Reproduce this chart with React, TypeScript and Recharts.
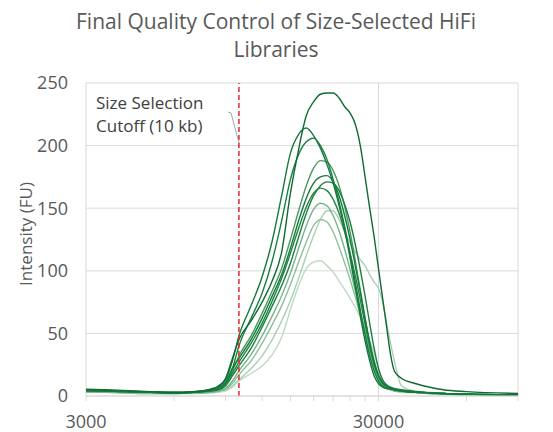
import React from 'react';
import { LineChart, Line, XAxis, YAxis, CartesianGrid, ReferenceLine } from 'recharts';

// Fragment size (bp) sampled along the log axis
const sizesBp = [3000, 3500, 4000, 5000, 6000, 7000, 8000, 8500, 9000, 9500, 10000, 11000, 12000, 13000, 14000, 15000, 16000, 17000, 18000, 19000, 20000, 21000, 22000, 23000, 24000, 25000, 26000, 27000, 28000, 29000, 30000, 31000, 32000, 33000, 34000, 36000, 40000, 45000, 50000, 60000, 90000];

// Intensity (FU) of each library
const libA = [5.5, 5, 4.5, 3.5, 3, 3.5, 5.5, 8, 14, 30, 45, 60, 75, 92, 115, 162, 197, 224, 235, 241, 242, 242, 238, 231, 226, 217, 200, 175, 150, 127, 102, 78, 55, 33, 20, 14, 10, 7, 5, 3.5, 2];
const libB = [4.5, 4, 3.5, 3, 2.5, 3, 5, 7, 13, 28, 48, 72, 95, 124, 160, 194, 209, 214, 208, 198, 185, 170, 152, 133, 110, 87, 64, 44, 28, 16, 10, 7, 6, 5.5, 5, 4, 3, 2.5, 2, 1.5, 1];
const libC = [5, 4, 4, 3, 3, 3.5, 5, 6, 10, 22, 40, 62, 82, 108, 140, 173, 193, 203, 206, 200, 189, 173, 155, 135, 113, 91, 69, 49, 32, 20, 12, 8, 6.5, 6, 5, 4, 3, 2.5, 2, 1.5, 1];
const libD = [4, 4, 3.5, 3, 2.5, 3, 4, 5.5, 9, 20, 32, 48, 66, 84, 102, 125, 148, 168, 182, 188, 187, 180, 168, 151, 131, 108, 85, 62, 42, 26, 15, 10, 7, 6, 5, 4, 3, 2.5, 2, 1.5, 1];
const libE = [5, 4.5, 4, 3, 2.5, 3, 4.5, 6, 11, 22, 30, 45, 62, 80, 97, 118, 140, 158, 170, 175, 176, 171, 160, 144, 125, 104, 83, 62, 43, 28, 17, 11, 8, 6.5, 5.5, 4.5, 3.5, 2.5, 2, 1.5, 1];
const libF = [4, 4, 3.5, 3, 2.5, 3, 4, 5, 8, 16, 24, 38, 55, 72, 88, 106, 127, 146, 160, 168, 171, 170, 164, 153, 139, 121, 101, 80, 58, 38, 22, 13, 9, 7, 6, 5, 3.5, 2.5, 2, 1.5, 1];
const libG = [4.5, 4, 3.5, 3, 2.5, 3, 4.5, 6, 10, 18, 27, 42, 58, 76, 94, 114, 134, 151, 162, 166, 164, 157, 146, 131, 114, 96, 77, 57, 39, 25, 16, 10, 8, 6.5, 5.5, 4.5, 3.5, 2.5, 2, 1.5, 1];
const libH = [3.5, 3, 3, 2.5, 2, 2.5, 3, 4, 6, 12, 20, 33, 48, 64, 80, 98, 118, 136, 149, 154, 152, 144, 132, 117, 101, 84, 67, 50, 34, 22, 13, 8, 6, 5, 4, 3.5, 3, 2, 1.5, 1, 0.8];
const libJ = [3, 3, 2.5, 2, 2, 2.5, 3, 4, 5.5, 10, 17, 28, 42, 57, 72, 89, 107, 123, 136, 141, 139, 131, 119, 106, 93, 79, 65, 51, 37, 25, 15, 9, 6, 5, 4, 3.5, 3, 2, 1.5, 1, 0.8];
const libI = [3, 3, 2.5, 2, 2, 2.5, 3, 3.5, 5, 8, 13, 22, 32, 45, 60, 76, 94, 112, 128, 141, 148, 148, 141, 131, 122, 115, 109, 104, 97, 91, 86, 75, 58, 42, 28, 8, 4, 3, 2, 1.5, 1];
const libK = [3, 3, 2.5, 2, 2, 2, 2.5, 3, 4, 7, 12, 18, 24, 33, 47, 69, 88, 102, 107, 108, 104, 99, 92, 85, 78, 71, 63, 54, 45, 34, 22, 13, 8, 5, 4, 3, 2.5, 2, 1.5, 1, 0.8];

const seriesKeys = ['K', 'I', 'J', 'H', 'D', 'G', 'F', 'E', 'C', 'B', 'A'];
const seriesValues = [libK, libI, libJ, libH, libD, libG, libF, libE, libC, libB, libA];
const seriesColors = ['#bcdac3', '#a9cfb3', '#8fbf9c', '#78b288', '#4a9a63', '#21843f', '#1c7f41', '#147a3b', '#17803f', '#137a3c', '#0e6b33'];

const xTicks = [3000, 6000, 9000, 12000, 15000, 18000, 21000, 24000, 27000, 30000, 60000, 90000];
const xLabelTicks = [3000, 30000];
const yTicks = [0, 50, 100, 150, 200, 250];
const cutoffBp = 10000;

const chartTitle = ['Final Quality Control of Size-Selected HiFi', 'Libraries'];
const yLabel = 'Intensity (FU)';
const noteLines = ['Size Selection', 'Cutoff (10 kb)'];

const FONT = '"Open Sans", "DejaVu Sans", sans-serif';
const TEXT = '#595959';
const GRID = '#d9d9d9';

const data = sizesBp.map((x, i) => {
  const row: Record<string, number> = { x };
  seriesKeys.forEach((k, j) => {
    row[k] = seriesValues[j][i];
  });
  return row;
});

const XTick = (props: any) => {
  const { x, y, payload } = props;
  const v = payload.value;
  return (
    <g>
      <line x1={x} x2={x} y1={y} y2={y + 5} stroke={GRID} strokeWidth={1} />
      {xLabelTicks.includes(v) && (
        <text x={x} y={y + 32} textAnchor="middle" fill={TEXT} fontSize={18} fontFamily={FONT}>
          {v}
        </text>
      )}
    </g>
  );
};

export default function App() {
  return (
    <div style={{ position: 'absolute', left: 0, top: 0, width: 553, height: 432, background: '#fff' }}>
      <LineChart width={553} height={432} data={data} margin={{ top: 83, right: 35, left: 0, bottom: 0 }}>
        <CartesianGrid vertical={false} stroke={GRID} />
        <ReferenceLine x={3000} stroke={GRID} />
        <ReferenceLine x={30000} stroke={GRID} />
        <ReferenceLine x={90000} stroke={GRID} />
        <XAxis
          dataKey="x"
          type="number"
          scale="log"
          domain={[3000, 90000]}
          ticks={xTicks}
          interval={0}
          allowDataOverflow
          tickLine={false}
          tickSize={0}
          tickMargin={0}
          axisLine={{ stroke: GRID }}
          height={36}
          tick={<XTick />}
        />
        <YAxis
          domain={[0, 250]}
          ticks={yTicks}
          interval={0}
          axisLine={false}
          tickLine={false}
          tickSize={0}
          tickMargin={18}
          width={86}
          tick={{ fill: TEXT, fontSize: 18, fontFamily: FONT }}
        />
        {seriesKeys.map((k, j) => (
          <Line
            key={k}
            type="monotone"
            dataKey={k}
            stroke={seriesColors[j]}
            strokeWidth={1.4}
            dot={false}
            activeDot={false}
            isAnimationActive={false}
          />
        ))}
        <ReferenceLine x={cutoffBp} stroke="#e3262b" strokeWidth={1.5} strokeDasharray="5 3" />
      </LineChart>
      <svg width={553} height={432} style={{ position: 'absolute', left: 0, top: 0, pointerEvents: 'none' }}>
        <text x={276} y={29} textAnchor="middle" fill={TEXT} fontSize={21} fontFamily={FONT}>
          {chartTitle[0]}
        </text>
        <text x={276} y={57} textAnchor="middle" fill={TEXT} fontSize={21} fontFamily={FONT}>
          {chartTitle[1]}
        </text>
        <text
          x={25}
          y={234}
          textAnchor="middle"
          dominantBaseline="central"
          fill={TEXT}
          fontSize={17}
          fontFamily={FONT}
          transform="rotate(-90, 25, 234)"
        >
          {yLabel}
        </text>
        <text x={96} y={109} fill="#404040" fontSize={17} fontFamily={FONT}>
          {noteLines[0]}
        </text>
        <text x={96} y={132} fill="#404040" fontSize={17} fontFamily={FONT}>
          {noteLines[1]}
        </text>
        <polyline points="228,112 231,113 239,143" fill="none" stroke="#a6a6a6" strokeWidth={1} />
      </svg>
    </div>
  );
}
